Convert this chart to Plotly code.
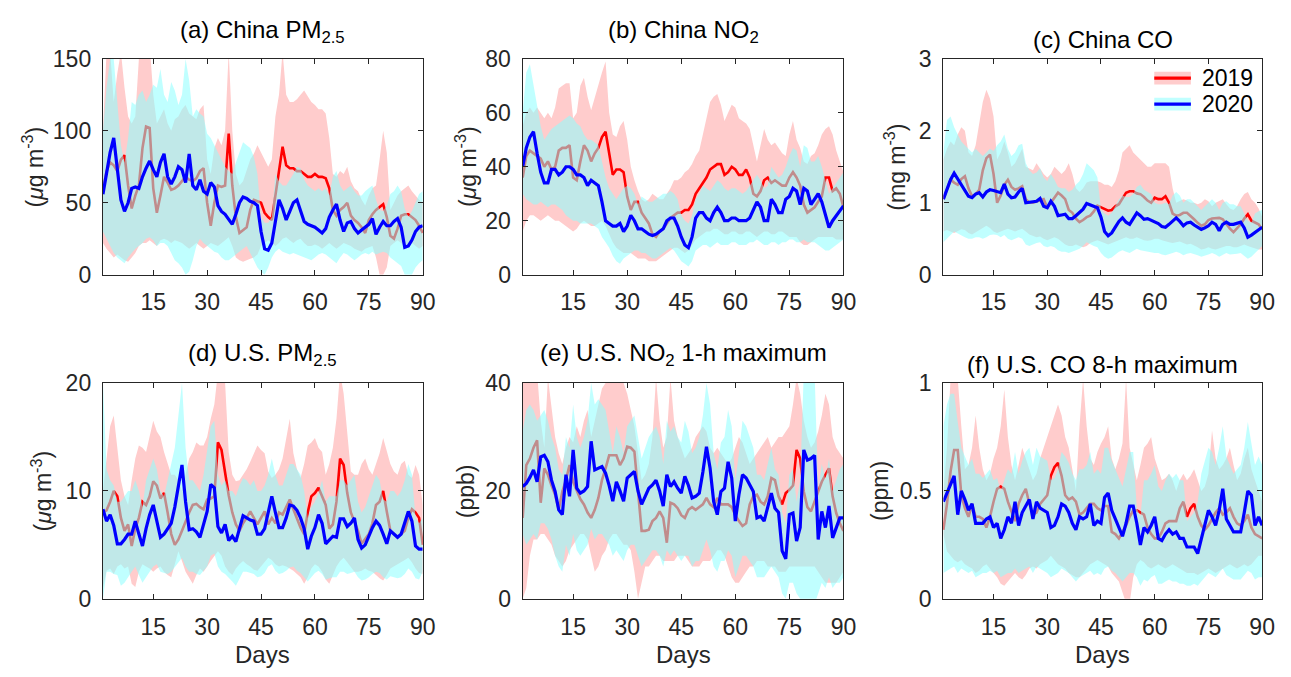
import plotly.graph_objects as go

days = list(range(1, 91))
x_ticks = [15, 30, 45, 60, 75, 90]

# ---------------- (a) China PM2.5 ----------------
a_mean19 = [59, 72, 78, 76, 72, 80, 83, 62, 46, 55,
            62, 88, 103, 102, 60, 43, 55, 68, 64, 59,
            60, 62, 65, 68, 66, 65, 67, 72, 74, 50,
            34, 50, 62, 61, 62, 98, 62, 40, 29, 31,
            33, 45, 52, 51, 50, 43, 40, 38, 55, 75,
            89, 76, 74, 74, 72, 72, 70, 68, 68, 70,
            68, 68, 67, 60, 45, 41, 45, 47, 50, 41,
            38, 36, 33, 29, 38, 42, 45, 47, 49, 40,
            27, 25, 32, 41, 42, 42, 40, 38, 34, 29]
a_lo19 = [22, 18, 15, 12, 14, 12, 10, 9, 12, 15,
          20, 22, 22, 24, 22, 20, 24, 25, 24, 22,
          24, 23, 22, 20, 18, 20, 22, 20, 18, 20,
          22, 21, 20, 22, 24, 26, 20, 12, 10, 9,
          10, 11, 12, 14, 20, 22, 24, 22, 20, 22,
          25, 26, 24, 22, 24, 25, 22, 20, 20, 21,
          20, 18, 20, 22, 20, 18, 20, 22, 21, 20,
          18, 17, 16, 18, 19, 20, 12, 0, 0, 5,
          20, 22, 24, 22, 20, 21, 22, 20, 18, 20]
a_hi19 = [100, 155, 155, 120, 140, 155, 130, 110, 105, 110,
          150, 160, 160, 160, 125, 105, 110, 115, 105, 100,
          108, 110, 115, 118, 112, 110, 108, 115, 118, 80,
          70, 88, 95, 90, 100, 155, 100, 70, 62, 65,
          72, 80, 84, 90, 85, 80, 75, 80, 110, 125,
          155, 125, 120, 120, 122, 125, 128, 124, 120, 118,
          115, 115, 112, 95, 70, 68, 72, 70, 75, 65,
          60, 58, 52, 48, 55, 60, 62, 80, 100, 85,
          45, 50, 55, 58, 60, 62, 58, 55, 52, 50]
a_mean20 = [56, 70, 85, 95, 75, 52, 44, 50, 60, 61,
            60, 68, 74, 79, 73, 68, 78, 84, 68, 63,
            68, 75, 73, 64, 84, 62, 59, 66, 58, 56,
            64, 61, 48, 44, 42, 38, 35, 42, 50, 54,
            53, 51, 50, 48, 30, 18, 17, 22, 38, 52,
            46, 38, 44, 50, 52, 44, 37, 35, 34, 33,
            31, 29, 32, 40, 45, 49, 38, 30, 36, 37,
            32, 29, 31, 33, 35, 39, 28, 33, 37, 34,
            34, 37, 39, 33, 19, 20, 24, 30, 33, 34]
a_lo20 = [30, 25, 20, 15, 12, 10, 8, 12, 15, 18,
          20, 22, 25, 26, 24, 20, 22, 22, 20, 15,
          10, 8, 5, 0, 2, 10, 20, 25, 22, 20,
          18, 16, 15, 12, 10, 10, 12, 14, 16, 18,
          20, 15, 10, 5, 2, 0, 5, 12, 16, 18,
          16, 15, 14, 15, 14, 13, 12, 11, 10, 12,
          14, 15, 14, 12, 10, 8, 12, 15, 14, 12,
          10, 12, 14, 15, 14, 16, 14, 15, 16, 15,
          12, 10, 8, 6, 0, 0, 0, 5, 8, 10]
a_hi20 = [100, 130, 150, 150, 120, 90, 78, 95, 120, 118,
          125, 128, 120, 125, 132, 130, 143, 125, 120, 134,
          128, 118, 125, 150, 135, 110, 115, 112, 110, 98,
          95, 90, 85, 80, 75, 72, 70, 78, 85, 92,
          90, 88, 82, 70, 40, 36, 36, 40, 70, 65,
          62, 62, 66, 70, 75, 74, 66, 62, 60, 58,
          60, 58, 60, 55, 68, 72, 62, 58, 60, 62,
          58, 55, 55, 58, 60, 62, 52, 45, 44, 48,
          56, 58, 62, 58, 46, 40, 44, 50, 56, 58]

# ---------------- (b) China NO2 ----------------
b_mean19 = [36, 44, 46, 45, 44, 43, 40, 42, 39, 40,
            46, 47, 47, 48, 36, 35, 42, 48, 46, 42,
            45, 47, 51, 53, 45, 37, 39, 39, 38, 29,
            24, 27, 27, 23, 21, 19, 15, 14, 16, 17,
            19, 21, 22, 23, 23, 24, 24, 26, 30, 32,
            34, 36, 39, 40, 41, 41, 37, 38, 40, 39,
            37, 37, 39, 36, 30, 29, 31, 35, 36, 34,
            35, 34, 33, 33, 36, 38, 36, 33, 26, 23,
            24, 25, 27, 29, 36, 36, 31, 32, 30, 25]
b_lo19 = [16, 20, 22, 22, 21, 20, 21, 22, 21, 20,
          20, 19, 18, 17, 16, 17, 19, 20, 19, 18,
          18, 19, 20, 18, 15, 12, 10, 9, 8, 8,
          8, 7, 6, 6, 6, 5, 5, 5, 6, 7,
          8, 9, 10, 10, 9, 8, 9, 11, 13, 14,
          15, 16, 16, 17, 17, 16, 15, 15, 16, 16,
          15, 15, 16, 16, 15, 14, 15, 16, 16, 15,
          15, 16, 16, 15, 14, 14, 14, 12, 11, 11,
          12, 13, 14, 14, 14, 14, 14, 13, 13, 13]
b_hi19 = [55, 60, 62, 60, 62, 60, 58, 60, 58, 62,
          69, 70, 71, 71, 58, 60, 70, 73, 66, 61,
          66, 70, 75, 79, 60, 52, 51, 55, 57, 50,
          40, 35, 31, 28, 27, 28, 30, 29, 28, 28,
          30, 32, 35, 35, 36, 38, 39, 41, 44, 46,
          52, 58, 64, 66, 67, 63, 57, 60, 63, 62,
          58, 57, 56, 54, 48, 42, 48, 54, 50, 48,
          49, 47, 45, 44, 52, 57, 50, 47, 42, 41,
          44, 45, 48, 52, 54, 55, 52, 46, 42, 38]
b_mean20 = [40, 47, 51, 53, 45, 38, 34, 34, 39, 39,
            37, 38, 40, 40, 39, 37, 37, 36, 33, 35,
            34, 33, 27, 20, 19, 18, 18, 19, 16, 18,
            22, 20, 17, 17, 16, 15, 14.5, 15, 16, 17,
            20, 21, 21, 18, 14, 11, 10, 14, 21, 23,
            23, 21, 20, 23, 25, 23, 20, 20, 21, 21,
            20, 20, 20, 21, 24, 27, 25, 20, 20, 28,
            26, 23, 23, 28, 29, 32, 31, 26, 32, 31,
            26, 28, 30, 27, 22, 17.5, 20, 22, 24, 25.5]
b_lo20 = [30, 28, 27, 26, 26, 27, 26, 25, 26, 26,
          25, 24, 22, 21, 20, 20, 19, 19, 19, 19,
          18, 17, 14, 12, 10, 7, 5, 4, 6, 7,
          8, 9, 9, 8, 8, 7, 6, 6, 7, 8,
          9, 10, 9, 7, 5, 4, 3, 5, 9, 10,
          11, 11, 10, 11, 12, 11, 11, 11, 12, 12,
          11, 11, 11, 12, 12, 13, 12, 11, 11, 12,
          12, 11, 12, 12, 13, 13, 12, 12, 13, 12,
          12, 12, 11, 10, 9, 9, 10, 11, 12, 13]
b_hi20 = [60, 75, 78, 70, 62, 55, 50, 52, 54, 55,
          56, 57, 58, 59, 58, 56, 55, 52, 50, 50,
          49, 48, 42, 36, 32, 30, 28, 30, 32, 33,
          32, 30, 26, 29, 28, 27, 27, 28, 29, 30,
          30, 31, 30, 28, 22, 20, 19, 22, 28, 30,
          33, 32, 31, 33, 35, 34, 32, 31, 32, 32,
          31, 30, 31, 33, 35, 37, 35, 32, 33, 40,
          38, 36, 37, 40, 44, 47, 46, 40, 48, 47,
          42, 42, 44, 40, 35, 30, 32, 34, 36, 38]

# ---------------- (c) China CO ----------------
c_mean19 = [1.05, 1.20, 1.32, 1.28, 1.25, 1.33, 1.37, 1.20, 1.09, 1.12,
            1.18, 1.45, 1.62, 1.67, 1.40, 1.00, 1.10, 1.25, 1.32, 1.22,
            1.18, 1.20, 1.23, 1.05, 1.00, 1.00, 1.02, 1.03, 1.05, 0.93,
            1.00, 1.07, 1.14, 1.10, 1.05, 0.90, 0.86, 0.78, 0.73, 0.76,
            0.80, 0.82, 0.88, 0.96, 0.94, 0.91, 0.89, 0.90, 0.95, 0.98,
            1.06, 1.14, 1.16, 1.16, 1.13, 1.12, 1.08, 1.03, 1.00, 1.07,
            1.05, 1.05, 1.09, 1.00, 0.85, 0.82, 0.83, 0.86, 0.86, 0.82,
            0.77, 0.72, 0.68, 0.70, 0.76, 0.78, 0.79, 0.79, 0.77, 0.70,
            0.64, 0.59, 0.65, 0.70, 0.78, 0.84, 0.75, 0.72, 0.70, 0.63]
c_lo19 = [0.60, 0.62, 0.60, 0.58, 0.60, 0.63, 0.62, 0.58, 0.56, 0.58,
          0.62, 0.65, 0.68, 0.65, 0.60, 0.58, 0.60, 0.62, 0.64, 0.62,
          0.60, 0.62, 0.64, 0.60, 0.56, 0.54, 0.52, 0.53, 0.50, 0.48,
          0.50, 0.52, 0.50, 0.46, 0.42, 0.40, 0.40, 0.42, 0.40, 0.38,
          0.40, 0.44, 0.46, 0.48, 0.46, 0.44, 0.42, 0.44, 0.46, 0.48,
          0.50, 0.52, 0.50, 0.50, 0.52, 0.50, 0.48, 0.47, 0.48, 0.50,
          0.50, 0.48, 0.46, 0.45, 0.44, 0.45, 0.46, 0.44, 0.42, 0.43,
          0.40, 0.38, 0.35, 0.36, 0.38, 0.36, 0.35, 0.37, 0.38, 0.40,
          0.40, 0.38, 0.38, 0.40, 0.42, 0.40, 0.38, 0.36, 0.35, 0.35]
c_hi19 = [1.60, 1.75, 1.85, 1.80, 1.95, 2.05, 2.00, 1.70, 1.65, 1.80,
          2.10, 2.40, 2.57, 2.45, 2.20, 1.60, 1.70, 1.85, 1.70, 1.50,
          1.55, 1.65, 1.75, 1.50, 1.48, 1.45, 1.55, 1.48, 1.40, 1.35,
          1.40, 1.50, 1.45, 1.40, 1.45, 1.55, 1.40, 1.20, 1.15, 1.20,
          1.28, 1.30, 1.30, 1.30, 1.28, 1.25, 1.25, 1.22, 1.30, 1.45,
          1.70, 1.75, 1.80, 1.70, 1.65, 1.60, 1.55, 1.50, 1.50, 1.55,
          1.55, 1.55, 1.55, 1.50, 1.20, 1.00, 1.02, 1.05, 1.03, 1.00,
          1.00, 0.98, 1.00, 1.05, 1.02, 0.95, 1.00, 1.02, 1.05, 0.98,
          0.92, 0.90, 0.95, 1.05, 1.12, 1.15, 1.05, 1.00, 0.92, 0.80]
c_mean20 = [1.05, 1.20, 1.32, 1.41, 1.33, 1.24, 1.15, 1.09, 1.07, 1.12,
            1.14, 1.08, 1.15, 1.18, 1.17, 1.16, 1.14, 1.26, 1.12, 1.07,
            1.08, 1.15, 1.20, 1.00, 1.01, 1.02, 1.02, 1.06, 0.95, 0.93,
            1.02, 0.95, 0.82, 0.83, 0.84, 0.78, 0.78, 0.82, 0.87, 0.91,
            0.99, 0.97, 0.96, 0.93, 0.80, 0.60, 0.54, 0.58, 0.66, 0.74,
            0.79, 0.73, 0.70, 0.78, 0.86, 0.82, 0.77, 0.78, 0.76, 0.74,
            0.71, 0.67, 0.66, 0.70, 0.75, 0.79, 0.74, 0.68, 0.72, 0.73,
            0.69, 0.66, 0.63, 0.65, 0.68, 0.73, 0.70, 0.61, 0.70, 0.73,
            0.70, 0.70, 0.71, 0.73, 0.65, 0.52, 0.55, 0.59, 0.63, 0.66]
c_lo20 = [0.45, 0.50, 0.55, 0.60, 0.58, 0.55, 0.52, 0.50, 0.50, 0.52,
          0.52, 0.50, 0.52, 0.55, 0.56, 0.55, 0.52, 0.55, 0.50, 0.48,
          0.50, 0.52, 0.50, 0.42, 0.40, 0.42, 0.44, 0.45, 0.40, 0.38,
          0.40, 0.38, 0.34, 0.32, 0.32, 0.30, 0.32, 0.34, 0.36, 0.40,
          0.45, 0.42, 0.40, 0.38, 0.30, 0.25, 0.22, 0.24, 0.28, 0.32,
          0.34, 0.32, 0.30, 0.33, 0.36, 0.34, 0.32, 0.32, 0.31, 0.30,
          0.30, 0.28, 0.27, 0.29, 0.30, 0.32, 0.30, 0.27, 0.29, 0.30,
          0.28, 0.27, 0.25, 0.27, 0.28, 0.30, 0.28, 0.25, 0.28, 0.30,
          0.28, 0.28, 0.29, 0.30, 0.26, 0.22, 0.25, 0.30, 0.35, 0.40]
c_hi20 = [1.70, 2.15, 2.20, 2.05, 1.95, 1.85, 1.80, 1.75, 1.70, 1.75,
          1.70, 1.65, 1.70, 1.75, 1.72, 1.80, 1.85, 1.95, 1.75, 1.65,
          1.70, 1.80, 1.82, 1.55, 1.45, 1.40, 1.42, 1.48, 1.35, 1.30,
          1.40, 1.32, 1.22, 1.20, 1.20, 1.15, 1.18, 1.25, 1.30, 1.40,
          1.55, 1.50, 1.45, 1.35, 0.90, 0.85, 0.82, 0.86, 0.95, 1.05,
          1.10, 1.08, 1.08, 1.12, 1.22, 1.25, 1.18, 1.15, 1.12, 1.00,
          0.98, 0.98, 1.00, 0.98, 1.10, 1.15, 1.10, 1.00, 1.05, 1.05,
          1.00, 0.95, 0.90, 0.95, 1.00, 1.05, 1.00, 0.90, 1.00, 1.02,
          0.98, 0.98, 0.95, 0.95, 0.85, 0.75, 0.72, 0.85, 0.88, 0.90]

# ---------------- (d) U.S. PM2.5 ----------------
d_mean19 = [8.0, 8.2, 9.0, 10.0, 9.5, 7.5, 6.3, 6.9, 4.9, 6.5,
            7.5, 9.0, 8.7, 9.5, 10.9, 10.5, 9.3, 9.8, 8.0, 6.0,
            5.0, 5.5, 6.3, 7.2, 8.0, 8.7, 8.8, 8.5, 8.3, 9.2,
            9.3, 9.5, 14.5, 13.8, 11.5, 9.6, 8.0, 6.9, 6.3, 7.0,
            7.5, 8.1, 7.5, 6.9, 7.5, 8.1, 6.9, 7.5, 7.0, 8.0,
            7.8, 8.5, 9.2, 8.3, 7.5, 6.6, 6.0, 8.0, 9.5, 9.8,
            10.3, 9.5, 8.7, 6.5, 6.9, 9.0, 13.0, 12.4, 9.8, 8.0,
            7.2, 6.3, 5.1, 5.5, 6.0, 7.0, 8.7, 9.0, 10.0, 8.1,
            6.3, 6.0, 5.7, 6.0, 6.3, 7.5, 8.3, 8.0, 7.5, 5.0]
d_lo19 = [1.0, 2.6, 2.8, 2.3, 3.0, 3.2, 2.8, 3.0, 1.4, 1.1,
          2.5, 3.2, 3.0, 2.8, 2.5, 2.8, 3.0, 2.5, 2.2, 2.0,
          3.2, 4.4, 3.5, 2.5, 2.0, 1.4, 2.2, 2.8, 2.5, 3.0,
          3.5, 4.0, 4.4, 4.0, 3.0, 2.5, 2.2, 2.8, 3.2, 3.5,
          3.2, 3.0, 2.7, 2.6, 3.0, 3.4, 3.8, 3.6, 3.2, 3.0,
          3.1, 3.0, 2.8, 2.6, 2.3, 2.0, 1.4, 2.0, 2.8, 3.2,
          3.0, 2.5, 1.8, 1.4, 2.2, 3.0, 3.5, 3.8, 3.4, 3.0,
          2.5, 2.5, 2.6, 2.8, 2.6, 2.5, 2.2, 1.9, 1.7, 2.2,
          2.8, 3.0, 3.2, 3.4, 3.6, 3.8, 3.4, 2.8, 2.4, 2.3]
d_hi19 = [10, 13, 16, 17, 14, 11, 9.5, 8.7, 11, 13,
          14.2, 14, 13.6, 15, 16.5, 15.5, 15, 13.6, 12.5, 11.5,
          11.5, 11, 10, 11.5, 13, 13.6, 14.5, 14.2, 14.2, 15,
          16.7, 18, 21, 21, 20, 13.6, 11.5, 10.9, 11, 11.5,
          12, 12.7, 13.5, 14.2, 13.8, 13.5, 11.8, 11.2, 11.5, 12,
          13, 15, 16.7, 13.5, 12, 11.2, 12.5, 14.2, 14.5, 14.9,
          14, 13.6, 11.5, 12.5, 14, 16.7, 21, 19, 15, 11.8,
          11.5, 11.5, 12.5, 13, 12, 11.5, 12.5, 13.5, 14.9, 13.6,
          12.5, 11.8, 11.5, 12.5, 12.8, 11.5, 11.2, 12.4, 11.5, 8.7]
d_mean20 = [8.3, 7.2, 7.8, 6.8, 5.1, 5.1, 5.5, 6.0, 6.0, 7.2,
            6.0, 4.9, 6.5, 7.8, 8.7, 7.2, 5.7, 6.0, 6.5, 7.0,
            8.5, 10.5, 12.4, 9.0, 6.4, 6.5, 6.2, 5.7, 6.8, 8.1,
            10.6, 10.3, 6.7, 6.1, 6.9, 5.4, 5.8, 5.3, 6.5, 7.7,
            7.5, 7.3, 7.2, 6.0, 6.0, 6.5, 8.0, 9.5, 8.0, 6.6,
            6.6, 7.5, 8.7, 8.6, 8.2, 7.5, 6.5, 4.6, 5.8, 6.6,
            7.8, 7.0, 5.1, 5.5, 5.8, 5.7, 7.4, 7.4, 6.7, 7.0,
            7.5, 5.5, 4.7, 5.0, 5.8, 6.6, 7.2, 6.8, 6.0, 5.1,
            6.3, 6.0, 5.7, 6.0, 7.0, 8.1, 7.2, 4.9, 4.6, 4.6]
d_lo20 = [0.0, 2.5, 2.5, 2.3, 2.2, 1.2, 1.5, 2.0, 2.5, 3.0,
          2.2, 1.5, 2.0, 2.5, 3.0, 3.2, 2.5, 2.4, 2.3, 2.5,
          3.0, 3.4, 3.8, 3.0, 2.5, 2.5, 2.3, 2.2, 2.6, 3.0,
          4.0, 4.2, 3.0, 2.5, 2.3, 2.0, 1.6, 1.2, 1.8, 2.5,
          2.5, 2.4, 2.3, 2.0, 2.1, 2.4, 3.0, 3.2, 2.6, 2.3,
          2.4, 2.6, 2.9, 3.0, 2.6, 2.4, 2.0, 1.6, 2.0, 2.4,
          2.6, 2.3, 1.8, 1.9, 2.0, 2.0, 2.5, 2.5, 2.3, 2.4,
          2.5, 2.0, 1.7, 1.8, 2.0, 2.3, 2.5, 2.4, 2.0, 1.8,
          2.1, 2.0, 1.9, 2.0, 2.3, 2.8, 2.5, 1.9, 1.8, 2.5]
d_hi20 = [20, 12, 11, 10.5, 9, 9, 9.5, 10, 10, 11,
          10, 8.5, 11, 12, 13, 12, 10, 9.5, 11, 12.5,
          14, 17, 20, 14, 11, 11, 10.5, 10, 11.5, 14,
          16, 16.5, 11.5, 10.5, 11, 10, 10, 9.5, 10.5, 11.2,
          11, 10.5, 11, 10, 10, 10.5, 11.5, 13, 11.5, 10.5,
          10.5, 11.5, 12.5, 12.5, 12, 11.5, 10, 7.5, 8.5, 9.0,
          9.8, 11, 9, 9.5, 9.5, 9.5, 11, 11, 10.5, 11,
          11.5, 9, 8, 8.5, 9.5, 10.5, 11.5, 11, 9.2, 9,
          10, 10, 9.5, 10, 11, 12.5, 11.5, 7.5, 7.0, 7.5]

# ---------------- (e) U.S. NO2 1-h maximum ----------------
e_mean19 = [15, 24.8, 26, 28, 29.4, 17.8, 24.2, 23, 21, 19.3,
            16.5, 19.9, 22, 24.8, 21.7, 20, 18.5, 17.5, 16, 15,
            16.5, 18.7, 22, 24.2, 26.6, 26.6, 26.6, 24.8, 26, 28.2,
            28, 27.3, 20, 12.6, 12.6, 12.8, 14.4, 15, 16.2, 15,
            10.4, 17.8, 17.5, 16.8, 15.5, 15, 16.5, 17, 16.5, 17,
            17.5, 18.7, 17.5, 17, 18.7, 17.5, 17.5, 17.5, 17, 15.5,
            14.4, 13.5, 14, 17.5, 19, 19.3, 18, 17.5, 19, 22.4,
            22, 19, 17.5, 19.6, 20.2, 21, 27.6, 26, 19.9, 17,
            16.2, 18, 19.9, 21.7, 23, 24.2, 19, 15.9, 14, 12.6]
e_lo19 = [0, 2, 8, 11, 11, 12, 12, 11, 10, 8,
          7, 6, 7, 9, 10, 11, 12, 12, 11, 8,
          5, 6, 8, 9, 11, 12, 12, 11, 10, 10,
          9, 5, 0, 3, 6, 6, 7, 8, 8, 7,
          7, 7, 7, 8, 8, 8, 7, 6, 6, 6,
          7, 7, 7, 8, 9, 9, 8, 6, 4, 3,
          3, 4, 5, 6, 6, 7, 7, 7, 6, 6,
          6, 5, 5, 5, 6, 6, 6, 6, 6, 6,
          6, 6, 5, 4, 3, 3, 3, 3, 4, 5]
e_hi19 = [42, 42, 42, 42, 42, 33, 28, 41, 35, 30,
          27, 25, 28, 30, 29, 32, 30, 33, 35, 30,
          33, 36, 39, 40, 41, 41, 41, 41, 40, 38,
          35, 32, 27, 22, 23, 25, 30, 41, 33, 28,
          30, 41, 33, 30, 28, 26, 27, 28, 30, 31,
          32, 31, 28, 27, 28, 27, 26, 25, 26, 28,
          30, 29, 27, 25, 26, 27, 28, 29, 30, 28,
          29, 30, 30, 31, 32, 36, 41, 38, 33, 30,
          28, 29, 31, 34, 38, 36, 30, 28, 27, 26]
e_mean20 = [20.8, 21.4, 22.5, 23.9, 21.7, 26.3, 26.6, 25.4, 22.0, 19.9,
            16.5, 15.6, 23.0, 19.0, 27.6, 20.5, 19.6, 20.0, 20.8, 29.2,
            23.9, 24.2, 24.5, 23.3, 21.0, 18.1, 21.7, 20.0, 18.1, 22.4,
            23.0, 23.6, 20.0, 17.5, 19.0, 20.5, 21.1, 22.0, 20.0, 17.2,
            23.0, 20.8, 21.7, 20.5, 19.6, 22.7, 21.0, 18.7, 19.0, 19.6,
            23.5, 28.2, 24.2, 18.0, 15.6, 19.9, 20.5, 25.4, 22.4, 14.4,
            19.3, 23.0, 22.4, 21.0, 19.9, 15.0, 15.3, 14.4, 17.0, 19.6,
            16.8, 16.0, 8.9, 7.4, 15.6, 15.9, 10.7, 13.2, 27.6, 25.7,
            26.0, 26.6, 11.0, 16.2, 13.2, 17.2, 11.3, 13.0, 15.0, 15.0]
e_lo20 = [12, 10, 11, 12, 11, 14, 14, 13, 11, 8,
          6, 5, 10, 8, 12, 9, 8, 9, 10, 13,
          11, 12, 12, 11, 10, 8, 9, 8, 7, 9,
          10, 10, 8, 6, 7, 8, 9, 9, 8, 6,
          9, 8, 9, 8, 7, 8, 8, 6, 7, 7,
          9, 11, 9, 6, 5, 7, 7, 9, 8, 4,
          6, 8, 8, 7, 6, 4, 4, 4, 5, 6,
          5, 4, 1, 0, 3, 3, 1, 0, -1, -1,
          -1, -1, 1, 3, 2, 4, 2, 3, 3, 4]
e_hi20 = [31, 35, 36, 35, 33, 34, 35, 33, 30, 28,
          24, 23, 30, 28, 36, 30, 28, 30, 33, 40,
          36, 37, 36, 35, 31, 27, 32, 30, 27, 32,
          33, 34, 30, 26, 28, 30, 31, 32, 30, 25,
          33, 31, 32, 30, 29, 33, 31, 27, 28, 30,
          34, 40, 36, 27, 24, 29, 30, 35, 32, 22,
          27, 33, 32, 30, 28, 23, 23, 22, 25, 28,
          24, 23, 16, 14, 23, 24, 18, 22, 42, 42,
          42, 42, 20, 25, 22, 26, 20, 22, 24, 25]

# ---------------- (f) U.S. CO 8-h maximum ----------------
f_mean19 = [0.32, 0.44, 0.59, 0.69, 0.69, 0.48, 0.42, 0.38, 0.44, 0.38,
            0.38, 0.37, 0.33, 0.38, 0.45, 0.51, 0.52, 0.51, 0.45, 0.40,
            0.36, 0.44, 0.48, 0.51, 0.44, 0.39, 0.40, 0.44, 0.46, 0.48,
            0.57, 0.61, 0.63, 0.57, 0.48, 0.46, 0.47, 0.45, 0.39, 0.40,
            0.42, 0.44, 0.44, 0.42, 0.41, 0.43, 0.43, 0.31, 0.30, 0.28,
            0.31, 0.34, 0.38, 0.41, 0.41, 0.40, 0.39, 0.33, 0.30, 0.28,
            0.28, 0.31, 0.35, 0.36, 0.36, 0.36, 0.42, 0.45, 0.38, 0.42,
            0.44, 0.38, 0.34, 0.32, 0.34, 0.37, 0.40, 0.42, 0.39, 0.40,
            0.42, 0.38, 0.35, 0.34, 0.36, 0.39, 0.33, 0.30, 0.29, 0.28]
f_lo19 = [0.30, 0.22, 0.20, 0.18, 0.17, 0.18, 0.16, 0.15, 0.14, 0.12,
          0.13, 0.15, 0.16, 0.14, 0.12, 0.10, 0.07, 0.06, 0.08, 0.10,
          0.12, 0.10, 0.09, 0.11, 0.14, 0.15, 0.14, 0.16, 0.17, 0.18,
          0.20, 0.18, 0.16, 0.15, 0.14, 0.12, 0.11, 0.10, 0.10, 0.12,
          0.14, 0.16, 0.17, 0.18, 0.17, 0.16, 0.15, 0.12, 0.10, 0.08,
          0.03, -0.02, -0.02, 0.10, 0.16, 0.18, 0.17, 0.15, 0.14, 0.15,
          0.16, 0.15, 0.14, 0.15, 0.16, 0.15, 0.14, 0.13, 0.12, 0.12,
          0.12, 0.11, 0.12, 0.13, 0.14, 0.13, 0.12, 0.13, 0.14, 0.15,
          0.16, 0.15, 0.14, 0.15, 0.16, 0.15, 0.16, 0.18, 0.20, 0.20]
f_hi19 = [0.50, 0.70, 1.02, 1.02, 1.02, 0.80, 0.60, 0.62, 0.70, 0.85,
          0.70, 0.60, 0.55, 0.58, 0.65, 0.70, 0.80, 0.97, 0.75, 0.62,
          0.55, 0.62, 0.70, 0.65, 0.60, 0.55, 0.58, 0.65, 0.70, 0.75,
          0.80, 0.85, 0.90, 0.85, 0.75, 0.70, 0.60, 0.50, 0.80, 1.02,
          0.80, 0.65, 0.62, 0.68, 0.72, 0.75, 0.80, 0.65, 0.60, 0.65,
          0.72, 1.02, 0.70, 0.62, 0.55, 0.62, 0.70, 0.72, 0.75, 0.65,
          0.60, 0.55, 0.56, 0.58, 0.55, 0.50, 0.55, 0.58, 0.55, 0.57,
          0.60, 0.55, 0.50, 0.52, 0.58, 0.78, 0.65, 0.60, 0.62, 0.65,
          0.70, 0.62, 0.55, 0.58, 0.65, 0.70, 0.60, 0.55, 0.50, 0.45]
f_mean20 = [0.45, 0.49, 0.53, 0.57, 0.39, 0.50, 0.46, 0.41, 0.44, 0.35,
            0.35, 0.35, 0.37, 0.38, 0.33, 0.35, 0.28, 0.32, 0.38, 0.35,
            0.45, 0.34, 0.40, 0.43, 0.46, 0.37, 0.45, 0.42, 0.41, 0.40,
            0.33, 0.34, 0.38, 0.44, 0.43, 0.40, 0.35, 0.32, 0.38, 0.37,
            0.38, 0.44, 0.34, 0.36, 0.35, 0.47, 0.49, 0.41, 0.37, 0.33,
            0.29, 0.35, 0.43, 0.43, 0.35, 0.25, 0.33, 0.31, 0.34, 0.38,
            0.28, 0.27, 0.30, 0.32, 0.30, 0.31, 0.28, 0.28, 0.24, 0.24,
            0.24, 0.21, 0.28, 0.35, 0.41, 0.38, 0.34, 0.41, 0.51, 0.37,
            0.34, 0.31, 0.31, 0.31, 0.40, 0.50, 0.48, 0.34, 0.38, 0.34]
f_lo20 = [0.12, 0.13, 0.14, 0.15, 0.12, 0.14, 0.13, 0.12, 0.13, 0.10,
          0.11, 0.12, 0.12, 0.13, 0.12, 0.13, 0.10, 0.11, 0.12, 0.12,
          0.14, 0.12, 0.13, 0.14, 0.15, 0.12, 0.15, 0.14, 0.13, 0.12,
          0.10, 0.11, 0.12, 0.14, 0.13, 0.12, 0.10, 0.08, 0.10, 0.11,
          0.12, 0.13, 0.11, 0.12, 0.11, 0.14, 0.15, 0.13, 0.12, 0.10,
          0.08, 0.10, 0.12, 0.12, 0.10, 0.06, 0.09, 0.08, 0.10, 0.11,
          0.07, 0.07, 0.08, 0.09, 0.08, 0.08, 0.07, 0.07, 0.06, 0.06,
          0.07, 0.06, 0.08, 0.10, 0.12, 0.11, 0.10, 0.12, 0.14, 0.11,
          0.10, 0.09, 0.09, 0.09, 0.11, 0.13, 0.12, 0.09, 0.10, 0.10]
f_hi20 = [0.80, 0.90, 0.95, 0.95, 0.82, 0.70, 0.66, 0.62, 0.65, 0.58,
          0.58, 0.56, 0.58, 0.60, 0.55, 0.56, 0.50, 0.55, 0.60, 0.58,
          0.68, 0.58, 0.64, 0.68, 0.70, 0.62, 0.70, 0.66, 0.65, 0.64,
          0.55, 0.56, 0.60, 0.68, 0.66, 0.63, 0.58, 0.55, 0.60, 0.60,
          0.62, 0.68, 0.58, 0.60, 0.58, 0.70, 0.70, 0.64, 0.60, 0.56,
          0.52, 0.60, 0.68, 0.68, 0.42, 0.38, 0.55, 0.55, 0.58, 0.62,
          0.52, 0.50, 0.55, 0.58, 0.56, 0.58, 0.55, 0.55, 0.36, 0.38,
          0.40, 0.45, 0.58, 0.64, 0.70, 0.68, 0.62, 0.70, 0.80, 0.66,
          0.62, 0.58, 0.60, 0.62, 0.70, 0.82, 0.72, 0.62, 0.66, 0.62]

panel_titles = ["(a) China PM<sub>2.5</sub>", "(b) China NO<sub>2</sub>", "(c) China CO",
                "(d) U.S. PM<sub>2.5</sub>", "(e) U.S. NO<sub>2</sub> 1-h maximum",
                "(f) U.S. CO 8-h maximum"]
y_titles = ["(<i>μ</i>g m<sup>-3</sup>)", "(<i>μ</i>g m<sup>-3</sup>)", "(mg m<sup>-3</sup>)",
            "(<i>μ</i>g m<sup>-3</sup>)", "(ppb)", "(ppm)"]
y_ranges = [[0, 150], [0, 80], [0, 3], [0, 20], [0, 40], [0, 1]]
y_tickvals = [[0, 50, 100, 150], [0, 20, 40, 60, 80], [0, 1, 2, 3],
              [0, 10, 20], [0, 20, 40], [0, 0.5, 1]]
y_ticktext = [["0", "50", "100", "150"], ["0", "20", "40", "60", "80"], ["0", "1", "2", "3"],
              ["0", "10", "20"], ["0", "20", "40"], ["0", "0.5", "1"]]
legend_labels = ["2019", "2020"]

panels = [
    (a_lo19, a_hi19, a_mean19, a_lo20, a_hi20, a_mean20),
    (b_lo19, b_hi19, b_mean19, b_lo20, b_hi20, b_mean20),
    (c_lo19, c_hi19, c_mean19, c_lo20, c_hi20, c_mean20),
    (d_lo19, d_hi19, d_mean19, d_lo20, d_hi20, d_mean20),
    (e_lo19, e_hi19, e_mean19, e_lo20, e_hi20, e_mean20),
    (f_lo19, f_hi19, f_mean19, f_lo20, f_hi20, f_mean20),
]

W, H = 1291, 677
# The captured picture is slightly squeezed vertically (y_pic ~ 0.976 * (y_page + 7.6)),
# so target picture positions are converted back to page positions here.
V_SCALE, V_OFF = 0.976, 7.6


def px_x(X):
    return X / W


def px_y(Y_pic):
    y_page = min(Y_pic / V_SCALE - V_OFF, H - 10)
    return 1 - y_page / H


PINK = "rgb(255,204,204)"
CYAN = "rgba(140,255,255,0.55)"
RED = "rgb(255,0,0)"
BLUE = "rgb(0,0,255)"
AX = "#262626"
FONT = "Liberation Sans, Arial, Helvetica, sans-serif"
TICK_SIZE = 23
TEXT_SIZE = 24

# axes boxes in picture pixels: (left, right) and (top, bottom)
cols_px = [(104, 427), (528, 852), (953, 1275)]
rows_px = [(54, 273), (383, 602)]
title_y_px = [26, 26, 34, 354, 354, 364]
ytitle_x_px = [33, 471, 904, 42, 471, 889]
days_label_y_px = 659

fig = go.Figure()
layout = dict(width=W, height=H, margin=dict(l=0, r=0, t=0, b=0, pad=0),
              paper_bgcolor="white", plot_bgcolor="white", showlegend=False,
              font=dict(family=FONT, color=AX))
annotations = []
shapes = []

for i, (lo19, hi19, m19, lo20, hi20, m20) in enumerate(panels):
    n = i + 1
    xa = "x" if n == 1 else f"x{n}"
    ya = "y" if n == 1 else f"y{n}"
    band_x = days + days[::-1]
    fig.add_trace(go.Scatter(x=band_x, y=hi19 + lo19[::-1], fill="toself", fillcolor=PINK,
                             line=dict(width=0), mode="lines", hoverinfo="skip",
                             xaxis=xa, yaxis=ya))
    fig.add_trace(go.Scatter(x=days, y=m19, mode="lines", line=dict(color=RED, width=2.6),
                             xaxis=xa, yaxis=ya, name="2019"))
    fig.add_trace(go.Scatter(x=band_x, y=hi20 + lo20[::-1], fill="toself", fillcolor=CYAN,
                             line=dict(width=0), mode="lines", hoverinfo="skip",
                             xaxis=xa, yaxis=ya))
    fig.add_trace(go.Scatter(x=days, y=m20, mode="lines", line=dict(color=BLUE, width=3.2),
                             xaxis=xa, yaxis=ya, name="2020"))

    r, c = divmod(i, 3)
    l_px, r_px = cols_px[c]
    t_px, b_px = rows_px[r]
    xdom = [px_x(l_px), px_x(r_px)]
    ydom = [px_y(b_px), px_y(t_px)]
    key = "" if n == 1 else str(n)
    layout["xaxis" + key] = dict(
        domain=xdom, anchor=ya, range=[1, 90], tickmode="array", tickvals=x_ticks,
        ticks="inside", ticklen=5, tickwidth=1, tickcolor=AX, showline=True, mirror="ticks",
        linecolor=AX, linewidth=1.3, showgrid=False, zeroline=False,
        tickfont=dict(size=TICK_SIZE, color=AX, family=FONT), ticklabelstandoff=7)
    layout["yaxis" + key] = dict(
        domain=ydom, anchor=xa, range=y_ranges[i], tickmode="array", tickvals=y_tickvals[i],
        ticktext=y_ticktext[i], ticks="inside", ticklen=5, tickwidth=1, tickcolor=AX,
        showline=True, mirror="ticks", linecolor=AX, linewidth=1.3, showgrid=False,
        zeroline=False, tickfont=dict(size=TICK_SIZE, color=AX, family=FONT),
        ticklabelstandoff=6)

    cx = px_x((l_px + r_px) / 2)
    annotations.append(dict(text=panel_titles[i], x=cx, y=px_y(title_y_px[i]), xref="paper",
                            yref="paper", xanchor="center", yanchor="middle", showarrow=False,
                            font=dict(size=TEXT_SIZE, color="black", family=FONT)))
    annotations.append(dict(text=y_titles[i], x=px_x(ytitle_x_px[i]), y=(ydom[0] + ydom[1]) / 2,
                            xref="paper", yref="paper", xanchor="center", yanchor="middle",
                            textangle=-90, showarrow=False,
                            font=dict(size=TICK_SIZE, color=AX, family=FONT)))
    if r == 1:
        annotations.append(dict(text="Days", x=cx, y=px_y(days_label_y_px), xref="paper",
                                yref="paper", xanchor="center", yanchor="middle",
                                showarrow=False,
                                font=dict(size=TEXT_SIZE, color=AX, family=FONT)))

# legend in panel (c)
leg_rows = [(73.5, PINK, RED, legend_labels[0]), (100, CYAN, BLUE, legend_labels[1])]
for yc, fillc, linec, lab in leg_rows:
    shapes.append(dict(type="rect", xref="paper", yref="paper", x0=px_x(1166), x1=px_x(1203),
                       y0=px_y(yc + 6.5), y1=px_y(yc - 6.5), fillcolor=fillc,
                       line=dict(width=0), layer="above"))
    shapes.append(dict(type="line", xref="paper", yref="paper", x0=px_x(1166), x1=px_x(1203),
                       y0=px_y(yc), y1=px_y(yc), line=dict(color=linec, width=3.2),
                       layer="above"))
    annotations.append(dict(text=lab, x=px_x(1212), y=px_y(yc), xref="paper", yref="paper",
                            xanchor="left", yanchor="middle", showarrow=False,
                            font=dict(size=TICK_SIZE, color="black", family=FONT)))

layout["annotations"] = annotations
layout["shapes"] = shapes
fig.update_layout(**layout)

fig.write_html("out.html", include_plotlyjs=True, config={"displayModeBar": False},
               post_script="document.body.style.margin='0';document.body.style.overflow='hidden';")
